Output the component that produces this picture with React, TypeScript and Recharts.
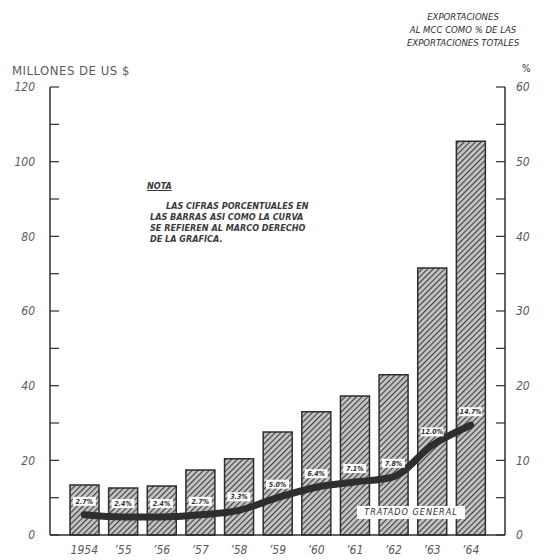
import React from 'react';
import { ComposedChart, Bar, Line, XAxis, YAxis, LabelList } from 'recharts';

// exportaciones al MCC, millones de US$ (eje izquierdo)
const years = ['1954', '’55', '’56', '’57', '’58', '’59', '’60', '’61', '’62', '’63', '’64'];
const exportsMillions = [13.4, 12.6, 13.1, 17.4, 20.4, 27.6, 33.0, 37.2, 42.9, 71.5, 105.5];
// % de las exportaciones totales (eje derecho)
const sharePct = [2.7, 2.4, 2.4, 2.7, 3.3, 5.0, 6.4, 7.1, 7.8, 12.0, 14.7];

const leftTicks = [0, 10, 20, 30, 40, 50, 60, 70, 80, 90, 100, 110, 120];
const rightTicks = [0, 5, 10, 15, 20, 25, 30, 35, 40, 45, 50, 55, 60];

const data = years.map((year, i) => ({
  year,
  value: exportsMillions[i],
  pct: sharePct[i],
}));

const ink = '#2e2e2e';
const grey = '#5a5a5a';
const font = '"Liberation Sans Narrow", "DejaVu Sans Condensed", "Liberation Sans", sans-serif';

const PctTag = (props: any) => {
  const { x, y, value } = props;
  if (x == null || y == null) return null;
  const w = 23;
  const h = 9;
  return (
    <g>
      <rect x={x - w / 2} y={y - 18} width={w} height={h} fill="#fff" />
      <text
        x={x}
        y={y - 11}
        textAnchor="middle"
        fontSize={7}
        fontWeight="bold"
        fontStyle="italic"
        fontFamily={font}
        fill={ink}
      >
        {value.toFixed(1)}%
      </text>
    </g>
  );
};

export default function App() {
  return (
    <div style={{ position: 'absolute', left: 0, top: 0, width: 544, height: 560, background: '#fff', fontFamily: font }}>
      <div style={{ position: 'absolute', left: 383, top: 10, width: 160, textAlign: 'center', fontSize: 9.5, fontStyle: 'italic', color: ink, lineHeight: '13px' }}>
        EXPORTACIONES
        <br />
        AL MCC COMO % DE LAS
        <br />
        EXPORTACIONES TOTALES
      </div>
      <div style={{ position: 'absolute', left: 522, top: 63, fontSize: 10, color: ink }}>%</div>
      <div style={{ position: 'absolute', left: 12, top: 63, fontSize: 13, letterSpacing: 0.5, color: grey }}>
        MILLONES DE US $
      </div>

      <div style={{ position: 'absolute', left: 147, top: 181, fontSize: 9, fontStyle: 'italic', fontWeight: 'bold', color: '#3a3a3a', lineHeight: '11px' }}>
        <span style={{ textDecoration: 'underline' }}>NOTA</span>
        <div style={{ marginTop: 9, marginLeft: 3 }}>
          <span style={{ marginLeft: 16 }}>LAS CIFRAS PORCENTUALES EN</span>
          <br />
          LAS BARRAS ASI COMO LA CURVA
          <br />
          SE REFIEREN AL MARCO DERECHO
          <br />
          DE LA GRAFICA.
        </div>
      </div>

      <ComposedChart
        width={544}
        height={560}
        data={data}
        margin={{ top: 87, right: 0, bottom: 0, left: 0 }}
        barSize={29}
      >
        <defs>
          <pattern id="hatch" width="4" height="4" patternUnits="userSpaceOnUse" patternTransform="rotate(45)">
            <rect width="4" height="4" fill="#c4c4c4" />
            <line x1="0" y1="0" x2="0" y2="4" stroke="#3c3c3c" strokeWidth="2.2" />
          </pattern>
        </defs>
        <XAxis
          dataKey="year"
          height={25}
          tickLine={false}
          axisLine={{ stroke: ink, strokeWidth: 1.5 }}
          padding={{ left: 15, right: 15 }}
          tick={{ fill: grey, fontSize: 12, fontStyle: 'italic', fontFamily: font }}
          tickMargin={4}
          interval={0}
        />
        <YAxis
          yAxisId="left"
          orientation="left"
          width={50}
          domain={[0, 120]}
          ticks={leftTicks}
          interval={0}
          tickSize={-9}
          tickMargin={24}
          tickLine={{ stroke: ink, strokeWidth: 1.2 }}
          axisLine={{ stroke: ink, strokeWidth: 1.5 }}
          tickFormatter={(v: number) => (v % 20 === 0 ? String(v) : '')}
          tick={{ fill: grey, fontSize: 12, fontStyle: 'italic', fontFamily: font }}
        />
        <YAxis
          yAxisId="right"
          orientation="right"
          width={39}
          domain={[0, 60]}
          ticks={rightTicks}
          interval={0}
          tickSize={-9}
          tickMargin={20}
          tickLine={{ stroke: ink, strokeWidth: 1.2 }}
          axisLine={{ stroke: ink, strokeWidth: 1.5 }}
          tickFormatter={(v: number) => (v % 10 === 0 ? String(v) : '')}
          tick={{ fill: grey, fontSize: 12, fontStyle: 'italic', fontFamily: font, textAnchor: 'start' }}
        />
        <Bar
          yAxisId="left"
          dataKey="value"
          fill="url(#hatch)"
          stroke={ink}
          strokeWidth={1.5}
          isAnimationActive={false}
        />
        <Line
          yAxisId="right"
          dataKey="pct"
          type="monotone"
          stroke={ink}
          strokeWidth={7}
          strokeLinecap="round"
          dot={false}
          activeDot={false}
          isAnimationActive={false}
        >
          <LabelList dataKey="pct" content={PctTag} />
        </Line>
      </ComposedChart>

      <div style={{ position: 'absolute', left: 357, top: 506, width: 108, height: 13, background: '#fff', fontSize: 9, fontStyle: 'italic', letterSpacing: 1, color: ink, textAlign: 'center', lineHeight: '13px' }}>
        TRATADO GENERAL
      </div>
    </div>
  );
}
